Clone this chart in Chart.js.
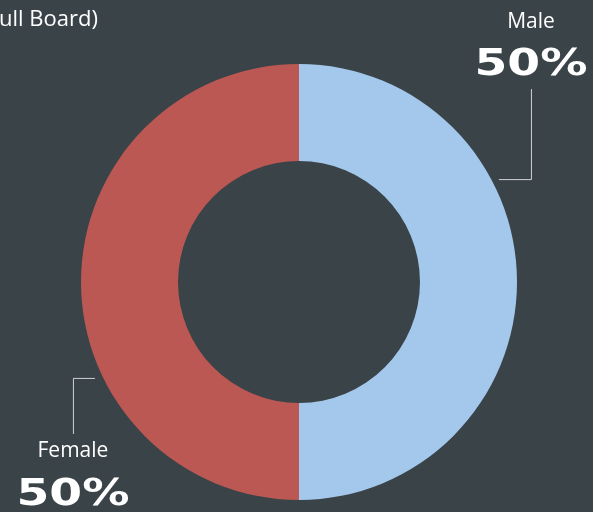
<!DOCTYPE html>
<html>
<head>
<meta charset="utf-8">
<script src="https://cdn.jsdelivr.net/npm/chart.js@4"></script>
<style>
html, body { margin: 0; padding: 0; background: #3a4348; overflow: hidden; }
#wrap { width: 593px; height: 512px; position: relative; }
</style>
</head>
<body>
<div id="wrap"><canvas id="genderChart"></canvas></div>
<script>
// Dados do gráfico
const labels = ['Male', 'Female'];
const values = [50, 50];
const sliceColors = ['#a4c8ec', '#bc5853'];
const titleText = 'ull Board)';

// Posição das etiquetas relativa ao centro / raio (estilo apenas)
const calloutPlugin = {
  id: 'callouts',
  afterDraw(chart) {
    const ctx = chart.ctx;
    const arc = chart.getDatasetMeta(0).data[0];
    const cx = arc.x, cy = arc.y, r = arc.outerRadius;
    ctx.save();
    // título cortado no topo
    ctx.fillStyle = '#ffffff';
    ctx.font = '22px "Open Sans"';
    ctx.textBaseline = 'alphabetic';
    ctx.textAlign = 'left';
    ctx.fillText(titleText, -1, 26);

    // linhas guia
    ctx.strokeStyle = '#d0d3d5';
    ctx.lineWidth = 1;
    ctx.beginPath();
    ctx.moveTo(cx + 0.917 * r, cy - 0.472 * r + 0.5);
    ctx.lineTo(cx + 1.064 * r + 0.5, cy - 0.472 * r + 0.5);
    ctx.lineTo(cx + 1.064 * r + 0.5, cy - 0.885 * r);
    ctx.moveTo(cx - 0.936 * r, cy + 0.440 * r + 0.5);
    ctx.lineTo(cx - 1.037 * r + 0.5, cy + 0.440 * r + 0.5);
    ctx.lineTo(cx - 1.037 * r + 0.5, cy + 0.697 * r);
    ctx.stroke();

    const drawLabel = (name, pct, x, yName, yPct) => {
      ctx.fillStyle = '#ffffff';
      ctx.textAlign = 'center';
      ctx.font = '21px "Open Sans"';
      ctx.fillText(name, x, yName);
      ctx.font = 'bold 38px "DejaVu Sans"';
      const w = ctx.measureText(pct).width;
      ctx.save();
      ctx.translate(x, yPct);
      ctx.scale(113 / w, 1);
      ctx.fillText(pct, 0, 0);
      ctx.restore();
    };
    drawLabel(labels[0], values[0] + '%', cx + 1.064 * r, 28, 75);
    drawLabel(labels[1], values[1] + '%', cx - 1.037 * r, 457, 505);
    ctx.restore();
  }
};

new Chart(document.getElementById('genderChart'), {
  type: 'doughnut',
  data: {
    labels: labels,
    datasets: [{
      data: values,
      backgroundColor: sliceColors,
      borderWidth: 0,
      hoverOffset: 0
    }]
  },
  options: {
    responsive: true,
    maintainAspectRatio: false,
    animation: false,
    cutout: '55.5%',
    layout: { padding: { top: 64, bottom: 12, left: 81, right: 76 } },
    plugins: {
      legend: { display: false },
      tooltip: { enabled: false }
    }
  },
  plugins: [calloutPlugin]
});
</script>
</body>
</html>
